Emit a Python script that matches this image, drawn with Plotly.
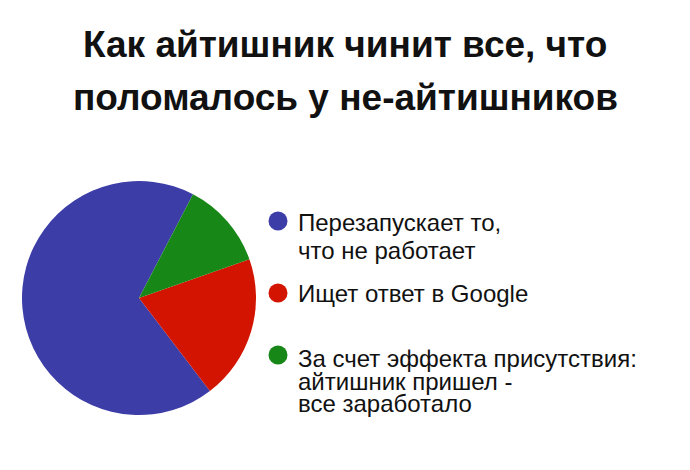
import plotly.graph_objects as go

W, H = 690, 470

labels = ["Перезапускает то,<br>что не работает", "Ищет ответ в Google",
          "За счет эффекта присутствия:<br>айтишник пришел -<br>все заработало"]
values = [68, 20, 12]
colors = ["#3d3da8", "#d21400", "#178717"]
title_lines = ["Как айтишник чинит все, что", "поломалось у не-айтишников"]

def px(x): return x / W
def py(y): return 1 - y / H

cx, cy, r = 139, 298, 117

fig = go.Figure(go.Pie(
    labels=labels, values=values, sort=False, direction="counterclockwise",
    rotation=142.7, marker=dict(colors=colors, line=dict(width=0)),
    textinfo="none", hoverinfo="label+percent", showlegend=False,
    domain=dict(x=[px(cx - r), px(cx + r)], y=[py(cy + r), py(cy - r)]),
))

annotations = []
for i, (t, yy) in enumerate(zip(title_lines, [45, 97])):
    annotations.append(dict(text=f"<b>{t}</b>", x=px(345), y=py(yy), xref="paper", yref="paper",
                            xanchor="center", yanchor="middle", showarrow=False,
                            font=dict(family="Liberation Sans", size=37, color="#111111")))

legend_lines = [
    ("Перезапускает то,", 223), ("что не работает", 250),
    ("Ищет ответ в Google", 293),
    ("За счет эффекта присутствия:", 358), ("айтишник пришел -", 381), ("все заработало", 403),
]
for t, yy in legend_lines:
    annotations.append(dict(text=t, x=px(296), y=py(yy), xref="paper", yref="paper",
                            xanchor="left", yanchor="middle", showarrow=False,
                            font=dict(family="Liberation Sans", size=24, color="#111111")))

shapes = []
for c, yy in zip(colors, [221, 293, 355]):
    rr = 9.5
    shapes.append(dict(type="circle", xref="paper", yref="paper",
                       x0=px(278 - rr), x1=px(278 + rr), y0=py(yy + rr), y1=py(yy - rr),
                       fillcolor=c, line=dict(width=0)))

fig.update_layout(width=W, height=H, margin=dict(l=0, r=0, t=0, b=0),
                  paper_bgcolor="white", plot_bgcolor="white",
                  annotations=annotations, shapes=shapes)
fig.write_html("out.html")
